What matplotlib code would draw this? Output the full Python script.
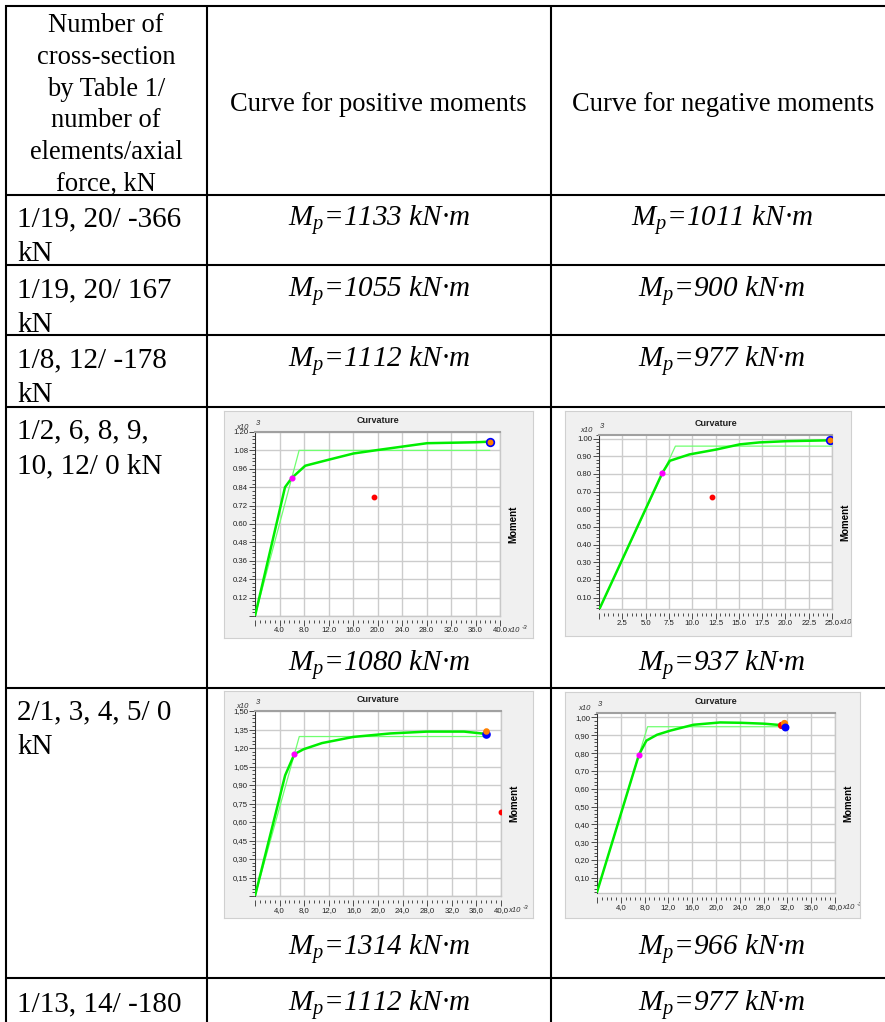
import matplotlib
matplotlib.use('Agg')
import matplotlib.pyplot as plt
from matplotlib.ticker import MultipleLocator, FuncFormatter

W, H = 885, 1022

plt.rcParams['font.family'] = ['Liberation Serif', 'DejaVu Serif']
plt.rcParams['mathtext.fontset'] = 'custom'
plt.rcParams['mathtext.it'] = 'Liberation Serif:italic'
plt.rcParams['mathtext.rm'] = 'Liberation Serif'

# table text
header_col1 = ["Number of", "cross-section", "by Table 1/", "number of",
               "elements/axial", "force, kN"]
header_pos = "Curve for positive moments"
header_neg = "Curve for negative moments"
row_labels = [["1/19, 20/ -366", "kN"], ["1/19, 20/ 167", "kN"],
              ["1/8, 12/ -178", "kN"], ["1/2, 6, 8, 9,", "10, 12/ 0 kN"],
              ["2/1, 3, 4, 5/ 0", "kN"], ["1/13, 14/ -180"]]
mp_pos = [1133, 1055, 1112, 1080, 1314, 1112]
mp_neg = [1011, 900, 977, 937, 966, 977]

# moment-curvature curves (curvature x10^-3, moment x10^3 kN*m)
# row 1/2,6,8,9,10,12 - positive
a_mc_x = [0, 4.9, 6.0, 8.2, 12.1, 16.1, 20.1, 24.1, 28.1, 32.1, 36.0, 38.3]
a_mc_y = [0, 0.84, 0.90, 0.98, 1.02, 1.06, 1.083, 1.105, 1.127, 1.13, 1.133, 1.137]
a_bl_x = [0, 7.2, 38.3]
a_bl_y = [0, 1.08, 1.08]
# row 1/2,6,8,9,10,12 - negative
b_mc_x = [0, 6.8, 7.6, 9.7, 12.6, 15.1, 17.2, 20.1, 24.8]
b_mc_y = [0.03, 0.806, 0.874, 0.91, 0.938, 0.967, 0.978, 0.985, 0.99]
b_bl_x = [0, 8.2, 25.0]
b_bl_y = [0.03, 0.957, 0.957]
# row 2/1,3,4,5 - positive
c_mc_x = [0, 4.9, 6.4, 7.9, 10.9, 16.0, 22.0, 28.0, 34.0, 37.6]
c_mc_y = [0, 0.978, 1.15, 1.19, 1.24, 1.29, 1.318, 1.333, 1.333, 1.314]
c_bl_x = [0, 7.2, 37.6]
c_bl_y = [0, 1.293, 1.293]
# row 2/1,3,4,5 - negative
d_mc_x = [0, 7.05, 8.3, 10.1, 12.3, 16.2, 20.7, 24.2, 28.1, 31.3]
d_mc_y = [0.02, 0.791, 0.87, 0.903, 0.926, 0.959, 0.972, 0.97, 0.965, 0.956]
d_bl_x = [0, 8.5, 31.3]
d_bl_y = [0.02, 0.948, 0.948]

# special points: (x, y, face, edge, size)
a_pts = [(6.0, 0.90, '#ff00ff', '#ff00ff', 3.2), (19.4, 0.774, 'red', 'red', 3.0),
         (38.3, 1.137, '#ff8000', '#0000ff', 5.5)]
b_pts = [(6.8, 0.806, '#ff00ff', '#ff00ff', 3.2), (12.1, 0.667, 'red', 'red', 3.0),
         (24.8, 0.99, '#ff8000', '#0000ff', 5.5)]
c_pts = [(6.4, 1.15, '#ff00ff', '#ff00ff', 3.2), (40.0, 0.679, 'red', 'red', 3.0),
         (37.6, 1.314, '#0000ff', '#0000ff', 5.0), (37.5, 1.336, '#ff8000', '#ff8000', 3.5)]
d_pts = [(7.05, 0.791, '#ff00ff', '#ff00ff', 3.2), (30.9, 0.959, 'red', 'red', 4.0),
         (31.4, 0.97, '#ff8000', '#ff8000', 4.0), (31.6, 0.948, '#0000ff', '#0000ff', 4.5)]

fig = plt.figure(figsize=(W / 100, H / 100), dpi=100)
page = fig.add_axes([0, 0, 1, 1])
page.set_xlim(0, W)
page.set_ylim(H, 0)
page.axis('off')

row_lines = [6, 195, 265, 335, 407, 688, 978]
col_lines = [6, 207, 551]
for y in row_lines:
    page.plot([5, W], [y, y], color='black', lw=1.5, solid_capstyle='butt')
for x in col_lines:
    page.plot([x, x], [5, H], color='black', lw=1.5, solid_capstyle='butt')

HS = 19.1   # header font size
RS = 21     # row font size
for i, s in enumerate(header_col1):
    page.text(106, 32 + i * 31.8, s, fontsize=HS, ha='center', va='baseline')
page.text(378, 111, header_pos, fontsize=HS, ha='center', va='baseline')
page.text(723, 111, header_neg, fontsize=HS, ha='center', va='baseline')

first_line = [216, 287, 357, 428, 709, 1001]
mp_line = [216, 287, 357, 661, 945, 1001]
for lines, y0 in zip(row_labels, first_line):
    for j, s in enumerate(lines):
        page.text(17, y0 + 10 + j * 35, s, fontsize=RS, ha='left', va='baseline')
for vp, vn, y0 in zip(mp_pos, mp_neg, mp_line):
    page.text(379, y0 + 10, r"$M_p$=%d kN·m" % vp, fontsize=RS, style='italic',
              ha='center', va='baseline')
    page.text(722, y0 + 10, r"$M_p$=%d kN·m" % vn, fontsize=RS, style='italic',
              ha='center', va='baseline')


def frac(box):
    x0, y0, x1, y1 = box
    return [x0 / W, 1 - y1 / H, (x1 - x0) / W, (y1 - y0) / H]


def fmt(dec, comma):
    def f(v, pos):
        if abs(v) < 1e-9:
            return ''
        s = '%.*f' % (dec, v)
        return s.replace('.', ',') if comma else s
    return FuncFormatter(f)


SANS = 'Liberation Sans'


def chart(panel, plot, mc_x, mc_y, bl_x, bl_y, pts, xlim, ylim, xstep, ystep,
          xdec, ydec, comma):
    pax = fig.add_axes(frac(panel))
    pax.set_xlim(panel[0], panel[2])
    pax.set_ylim(panel[3], panel[1])
    pax.set_facecolor('#f0f0f0')
    pax.set_xticks([])
    pax.set_yticks([])
    for sp in pax.spines.values():
        sp.set_color('#d0d0d0')
        sp.set_linewidth(0.8)
    l, t, r, b = plot
    pax.text((l + r) / 2, t - 12, 'Curvature', family=SANS, fontsize=6.5,
             weight='bold', ha='center', va='center', color='#202020', clip_on=True)
    pax.text(r + 13, (t + b) / 2, 'Moment', family=SANS, fontsize=7,
             weight='bold', rotation=90, ha='center', va='center', clip_on=True)
    pax.text(l - 6, t - 5, 'x10', family=SANS, fontsize=5.5, style='italic',
             ha='right', va='center', color='#303030', clip_on=True)
    pax.text(l + 1, t - 9, '3', family=SANS, fontsize=5.5, style='italic',
             ha='left', va='center', color='#303030', clip_on=True)
    pax.text(r + 7, b + 14, 'x10', family=SANS, fontsize=5.5, style='italic',
             ha='left', va='center', color='#303030', clip_on=True)
    pax.text(r + 22, b + 11, '-3', family=SANS, fontsize=4.5, style='italic',
             ha='left', va='center', color='#303030', clip_on=True)

    ax = fig.add_axes(frac(plot))
    ax.set_xlim(*xlim)
    ax.set_ylim(*ylim)
    ax.set_axisbelow(True)
    ax.grid(True, which='major', color='#cccccc', lw=1.0)
    ax.plot(bl_x, bl_y, color='#70ff70', lw=0.9, zorder=3)
    ax.plot(mc_x, mc_y, color='#00ee00', lw=1.8, zorder=4)
    for x, y, fc, ec, ms in pts:
        ax.plot([x], [y], 'o', mfc=fc, mec=ec, ms=ms, mew=1.2, zorder=5)
    ax.xaxis.set_major_locator(MultipleLocator(xstep))
    ax.xaxis.set_minor_locator(MultipleLocator(xstep / 5))
    ax.yaxis.set_major_locator(MultipleLocator(ystep))
    ax.yaxis.set_minor_locator(MultipleLocator(ystep / 5))
    ax.xaxis.set_major_formatter(fmt(xdec, comma))
    ax.yaxis.set_major_formatter(fmt(ydec, comma))
    ax.tick_params(which='both', direction='out', color='#303030', width=0.6,
                   labelsize=5.6, labelcolor='#202020', pad=1,
                   labelfontfamily=SANS)
    ax.tick_params(which='major', length=4)
    ax.tick_params(which='minor', length=2)
    ax.spines['top'].set_color('#a0a0a0')
    ax.spines['top'].set_linewidth(1.5)
    ax.spines['right'].set_color('#c8c8c8')
    ax.spines['right'].set_linewidth(1.0)
    ax.spines['left'].set_color('#303030')
    ax.spines['left'].set_linewidth(0.7)
    ax.spines['bottom'].set_position(('outward', 3))
    ax.spines['bottom'].set_visible(False)
    ax.axhline(ylim[0], color='#c8c8c8', lw=1.0, clip_on=False)
    return ax


chart((224, 411, 533, 638), (255, 432, 500, 616), a_mc_x, a_mc_y, a_bl_x, a_bl_y,
      a_pts, (0, 40), (0, 1.2), 4, 0.12, 1, 2, False)
chart((565, 411, 851, 636), (599, 435, 832, 609), b_mc_x, b_mc_y, b_bl_x, b_bl_y,
      b_pts, (0, 25), (0.035, 1.02), 2.5, 0.1, 1, 2, False)
chart((224, 691, 533, 918), (255, 711, 501, 896), c_mc_x, c_mc_y, c_bl_x, c_bl_y,
      c_pts, (0, 40), (0, 1.5), 4, 0.15, 1, 2, True)
chart((565, 692, 860, 918), (597, 713, 835, 893), d_mc_x, d_mc_y, d_bl_x, d_bl_y,
      d_pts, (0, 40), (0.015, 1.025), 4, 0.1, 1, 2, True)

fig.savefig('out.png', dpi=100)
